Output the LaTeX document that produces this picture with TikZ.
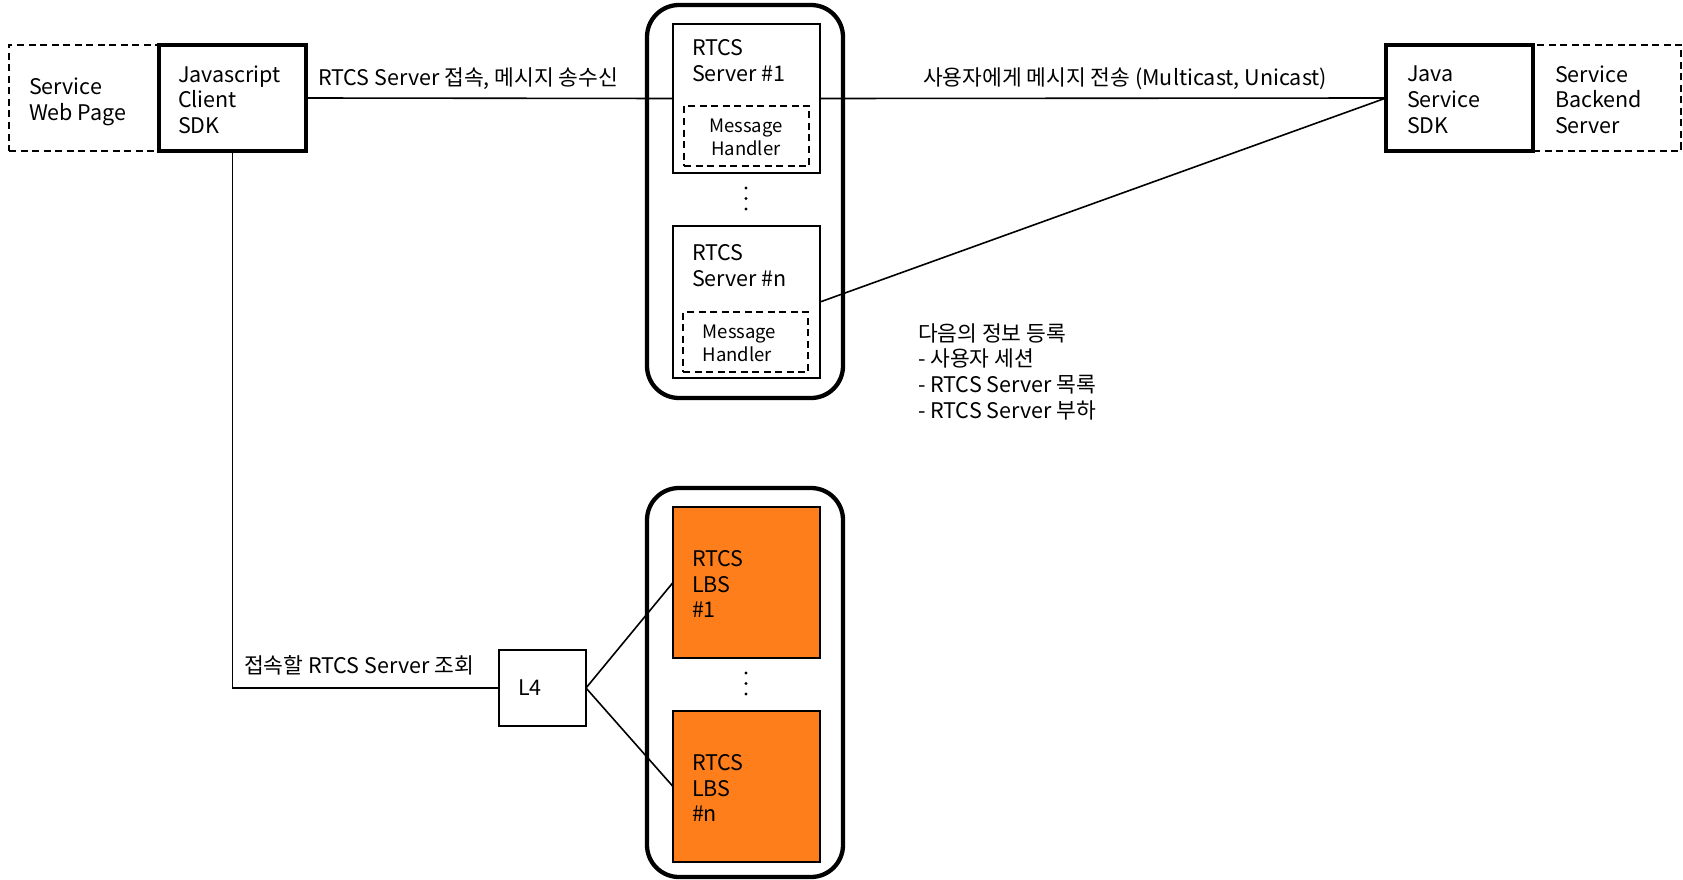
\documentclass[tikz,border=0pt]{standalone}
\usepackage{fontspec}
\setmainfont{Noto Sans CJK KR}
\definecolor{lbsorange}{RGB}{253,126,26}
\tikzset{
  every node/.style={inner sep=0pt, outer sep=0pt},
  txt/.style={font=\fontsize{21.5}{25.7}\selectfont, align=left, anchor=west},
  smalltxt/.style={font=\fontsize{18.5}{22.5}\selectfont, align=center},
  frame/.style={draw, line width=3.2pt, anchor=north west},
  dashframe/.style={draw, dashed, dash pattern=on 7pt off 4.5pt, line width=1.6pt, anchor=north west},
  serverbox/.style={draw, line width=2pt, anchor=north west, minimum width=147pt},
  lbsbox/.style={draw, fill=lbsorange, line width=2pt, anchor=north west, minimum width=147pt, minimum height=151pt},
  container/.style={draw, line width=4.3pt, rounded corners=32pt, anchor=north west, minimum width=196pt},
  thinbox/.style={draw, line width=1.6pt, anchor=north west},
  link/.style={line width=1.6pt},
  dot/.style={circle, fill, minimum size=3.4pt}
}
\begin{document}
\begin{tikzpicture}[x=1pt, y=-1pt]
\useasboundingbox (0,0) rectangle (1683,880);

% upper group: RTCS servers
\node[container, minimum height=393pt] (srvgroup) at (647,5) {};
\node[serverbox, minimum height=149pt] (srv1) at (673,24) {};
\node[dashframe, minimum width=125pt, minimum height=60pt] (mh1) at (684,106) {};
\node[serverbox, minimum height=152pt] (srvn) at (673,226) {};
\node[dashframe, minimum width=125pt, minimum height=60pt] (mhn) at (683,312) {};
\node[txt] at (692,60.5) {RTCS\\Server \#1};
\node[smalltxt] at (746,137.5) {Message\\Handler};
\node[txt] at (692,265.5) {RTCS\\Server \#n};
\node[smalltxt, align=left] at (739.5,343.5) {Message\\Handler};
\foreach \y in {188,198.5,209} \node[dot] at (746,\y) {};

% lower group: RTCS LBS
\node[container, minimum height=389pt] (lbsgroup) at (647,488) {};
\node[lbsbox] (lbs1) at (673,507) {};
\node[lbsbox] (lbsn) at (673,711) {};
\node[txt] at (692,584) {RTCS\\LBS\\\#1};
\node[txt] at (692,788) {RTCS\\LBS\\\#n};
\foreach \y in {673,683.5,694} \node[dot] at (746,\y) {};

% client side
\node[dashframe, minimum width=150pt, minimum height=106pt] (webpage) at (9,45) {};
\node[frame, minimum width=147pt, minimum height=106pt] (js) at (159,45) {};
\node[txt] at (29,102) {Service\\Web Page};
\node[txt] at (178,99.7) {Javascript\\Client\\SDK};

% backend side
\node[dashframe, minimum width=148pt, minimum height=106pt] (backend) at (1533,45) {};
\node[frame, minimum width=147pt, minimum height=106pt] (java) at (1386,45) {};
\node[txt] at (1407,99.7) {Java\\Service\\SDK};
\node[txt] at (1555,99.7) {Service\\Backend\\Server};

% L4 switch
\node[thinbox, minimum width=87pt, minimum height=76pt] (l4) at (499,650) {};
\node[txt] at (518,688) {L4};

% connectors
\draw[link] (js.east) -- (srv1.west);
\draw[link] (srv1.east) -- (java.west);
\draw[link] (srvn.east) -- (java.west);
\draw[link] (js.south) |- (l4.west);
\draw[link] (l4.east) -- (lbs1.west);
\draw[link] (l4.east) -- (lbsn.west);

% connector labels
\node[txt] at (318,79) {RTCS Server 접속, 메시지 송수신};
\node[txt] at (923,79) {사용자에게 메시지 전송 (Multicast, Unicast)};
\node[txt] at (244,665.5) {접속할 RTCS Server 조회};
\node[txt] at (918,371.5) {다음의 정보 등록\\- 사용자 세션\\- RTCS Server 목록\\- RTCS Server 부하};
\end{tikzpicture}
\end{document}
